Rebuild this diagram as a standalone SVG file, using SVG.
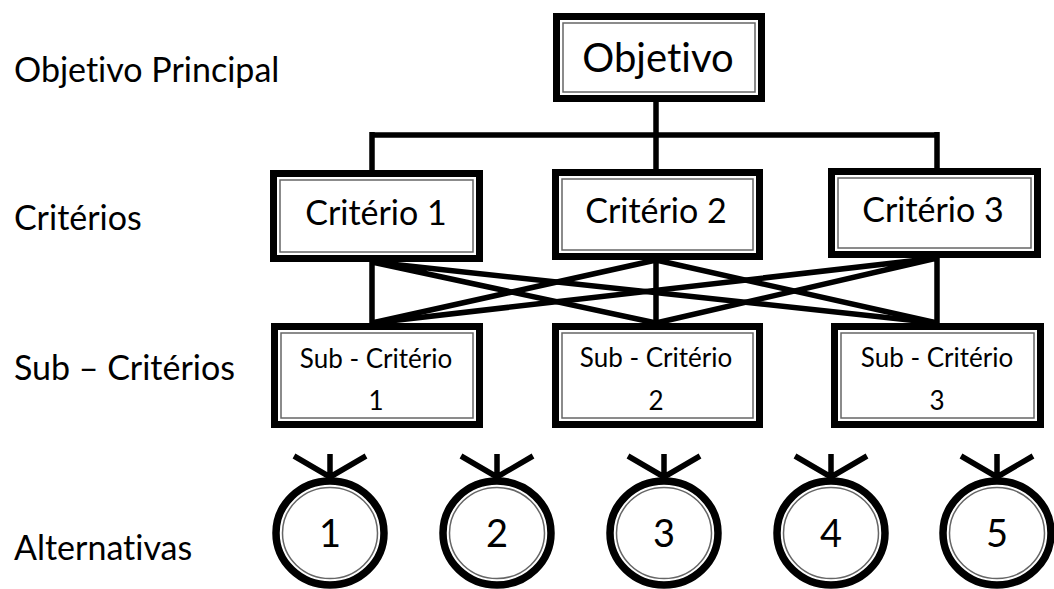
<svg xmlns="http://www.w3.org/2000/svg" width="1054" height="589" viewBox="0 0 1054 589">
  <style>
    text { font-family: Lato, "Liberation Sans", sans-serif; fill: #000; font-variant-ligatures: none; }
    .label { font-size: 34px; }
    .box-outer { fill: #fff; stroke: #000; stroke-width: 7; }
    .box-inner { fill: none; stroke: #666; stroke-width: 1.5; }
    .t-main { font-size: 40px; text-anchor: middle; }
    .t-crit { font-size: 34px; text-anchor: middle; }
    .t-sub { font-size: 26px; text-anchor: middle; }
    .t-alt { font-size: 38px; text-anchor: middle; }
    .conn { fill: none; stroke: #000; stroke-width: 5.5; stroke-linejoin: miter; }
    .ring-outer { fill: #fff; stroke: #000; stroke-width: 7.5; }
    .ring-inner { fill: none; stroke: #666; stroke-width: 1.5; }
    .tick { stroke: #000; stroke-width: 5.5; stroke-linecap: butt; }
  </style>

  <!-- level labels -->
  <g id="level-labels">
    <text class="label" x="14" y="82">Objetivo Principal</text>
    <text class="label" x="14" y="230">Critérios</text>
    <text class="label" x="14" y="380">Sub – Critérios</text>
    <text class="label" x="14" y="560">Alternativas</text>
  </g>

  <!-- connectors -->
  <g id="connectors">
    <path class="conn" d="M656,102 V135 M372,135 H937 M372,132 V170 M656,135 V169 M937,132 V168"/>
    <!-- each criterion to each sub-criterion -->
    <path class="conn" d="M372,262 L372,323 M372,262 L656,323 M372,262 L937,323"/>
    <path class="conn" d="M656,260 L372,323 M656,260 L656,323 M656,260 L937,323"/>
    <path class="conn" d="M937,258 L372,323 M937,258 L656,323 M937,258 L937,323"/>
  </g>

  <!-- goal -->
  <g id="objetivo">
    <rect class="box-outer" x="556.5" y="16.5" width="205" height="82"/>
    <rect class="box-inner" x="563" y="23" width="192" height="69"/>
    <text class="t-main" x="658" y="72">Objetivo</text>
  </g>

  <!-- criteria -->
  <g id="criterio-1">
    <rect class="box-outer" x="273.5" y="173.5" width="206" height="85"/>
    <rect class="box-inner" x="280" y="180" width="193" height="72"/>
    <text class="t-crit" x="376" y="225">Critério 1</text>
  </g>
  <g id="criterio-2">
    <rect class="box-outer" x="555.5" y="172.5" width="204" height="84"/>
    <rect class="box-inner" x="562" y="179" width="191" height="71"/>
    <text class="t-crit" x="656" y="223">Critério 2</text>
  </g>
  <g id="criterio-3">
    <rect class="box-outer" x="831.5" y="171.5" width="206" height="83"/>
    <rect class="box-inner" x="838" y="178" width="193" height="70"/>
    <text class="t-crit" x="933" y="222">Critério 3</text>
  </g>

  <!-- sub-criteria -->
  <g id="sub-criterio-1">
    <rect class="box-outer" x="274.5" y="326.5" width="205" height="98"/>
    <rect class="box-inner" x="281" y="333" width="192" height="85"/>
    <text class="t-sub" x="376" y="368">Sub - Critério</text>
    <text class="t-sub" x="376" y="410">1</text>
  </g>
  <g id="sub-criterio-2">
    <rect class="box-outer" x="555.5" y="326.5" width="204" height="98"/>
    <rect class="box-inner" x="562" y="333" width="191" height="85"/>
    <text class="t-sub" x="656" y="367">Sub - Critério</text>
    <text class="t-sub" x="656" y="410">2</text>
  </g>
  <g id="sub-criterio-3">
    <rect class="box-outer" x="834.5" y="326.5" width="206" height="98"/>
    <rect class="box-inner" x="841" y="333" width="193" height="85"/>
    <text class="t-sub" x="937" y="367">Sub - Critério</text>
    <text class="t-sub" x="937" y="410">3</text>
  </g>

  <!-- alternatives -->
  <g id="alternativa-1">
    <path class="tick" d="M330,454 V478 M294,456 L330,477 M366,456 L330,477"/>
    <ellipse class="ring-outer" cx="330" cy="533" rx="54" ry="52"/>
    <ellipse class="ring-inner" cx="330" cy="533" rx="47.5" ry="45.5"/>
    <text class="t-alt" x="330" y="547">1</text>
  </g>
  <g id="alternativa-2">
    <path class="tick" d="M497,454 V478 M461,456 L497,477 M533,456 L497,477"/>
    <ellipse class="ring-outer" cx="497" cy="533" rx="54" ry="52"/>
    <ellipse class="ring-inner" cx="497" cy="533" rx="47.5" ry="45.5"/>
    <text class="t-alt" x="497" y="547">2</text>
  </g>
  <g id="alternativa-3">
    <path class="tick" d="M664,454 V478 M628,456 L664,477 M700,456 L664,477"/>
    <ellipse class="ring-outer" cx="664" cy="533" rx="54" ry="52"/>
    <ellipse class="ring-inner" cx="664" cy="533" rx="47.5" ry="45.5"/>
    <text class="t-alt" x="664" y="547">3</text>
  </g>
  <g id="alternativa-4">
    <path class="tick" d="M831,454 V478 M795,456 L831,477 M867,456 L831,477"/>
    <ellipse class="ring-outer" cx="831" cy="533" rx="54" ry="52"/>
    <ellipse class="ring-inner" cx="831" cy="533" rx="47.5" ry="45.5"/>
    <text class="t-alt" x="831" y="547">4</text>
  </g>
  <g id="alternativa-5">
    <path class="tick" d="M997,454 V478 M961,456 L997,477 M1033,456 L997,477"/>
    <ellipse class="ring-outer" cx="997" cy="533" rx="54" ry="52"/>
    <ellipse class="ring-inner" cx="997" cy="533" rx="47.5" ry="45.5"/>
    <text class="t-alt" x="997" y="547">5</text>
  </g>
</svg>
